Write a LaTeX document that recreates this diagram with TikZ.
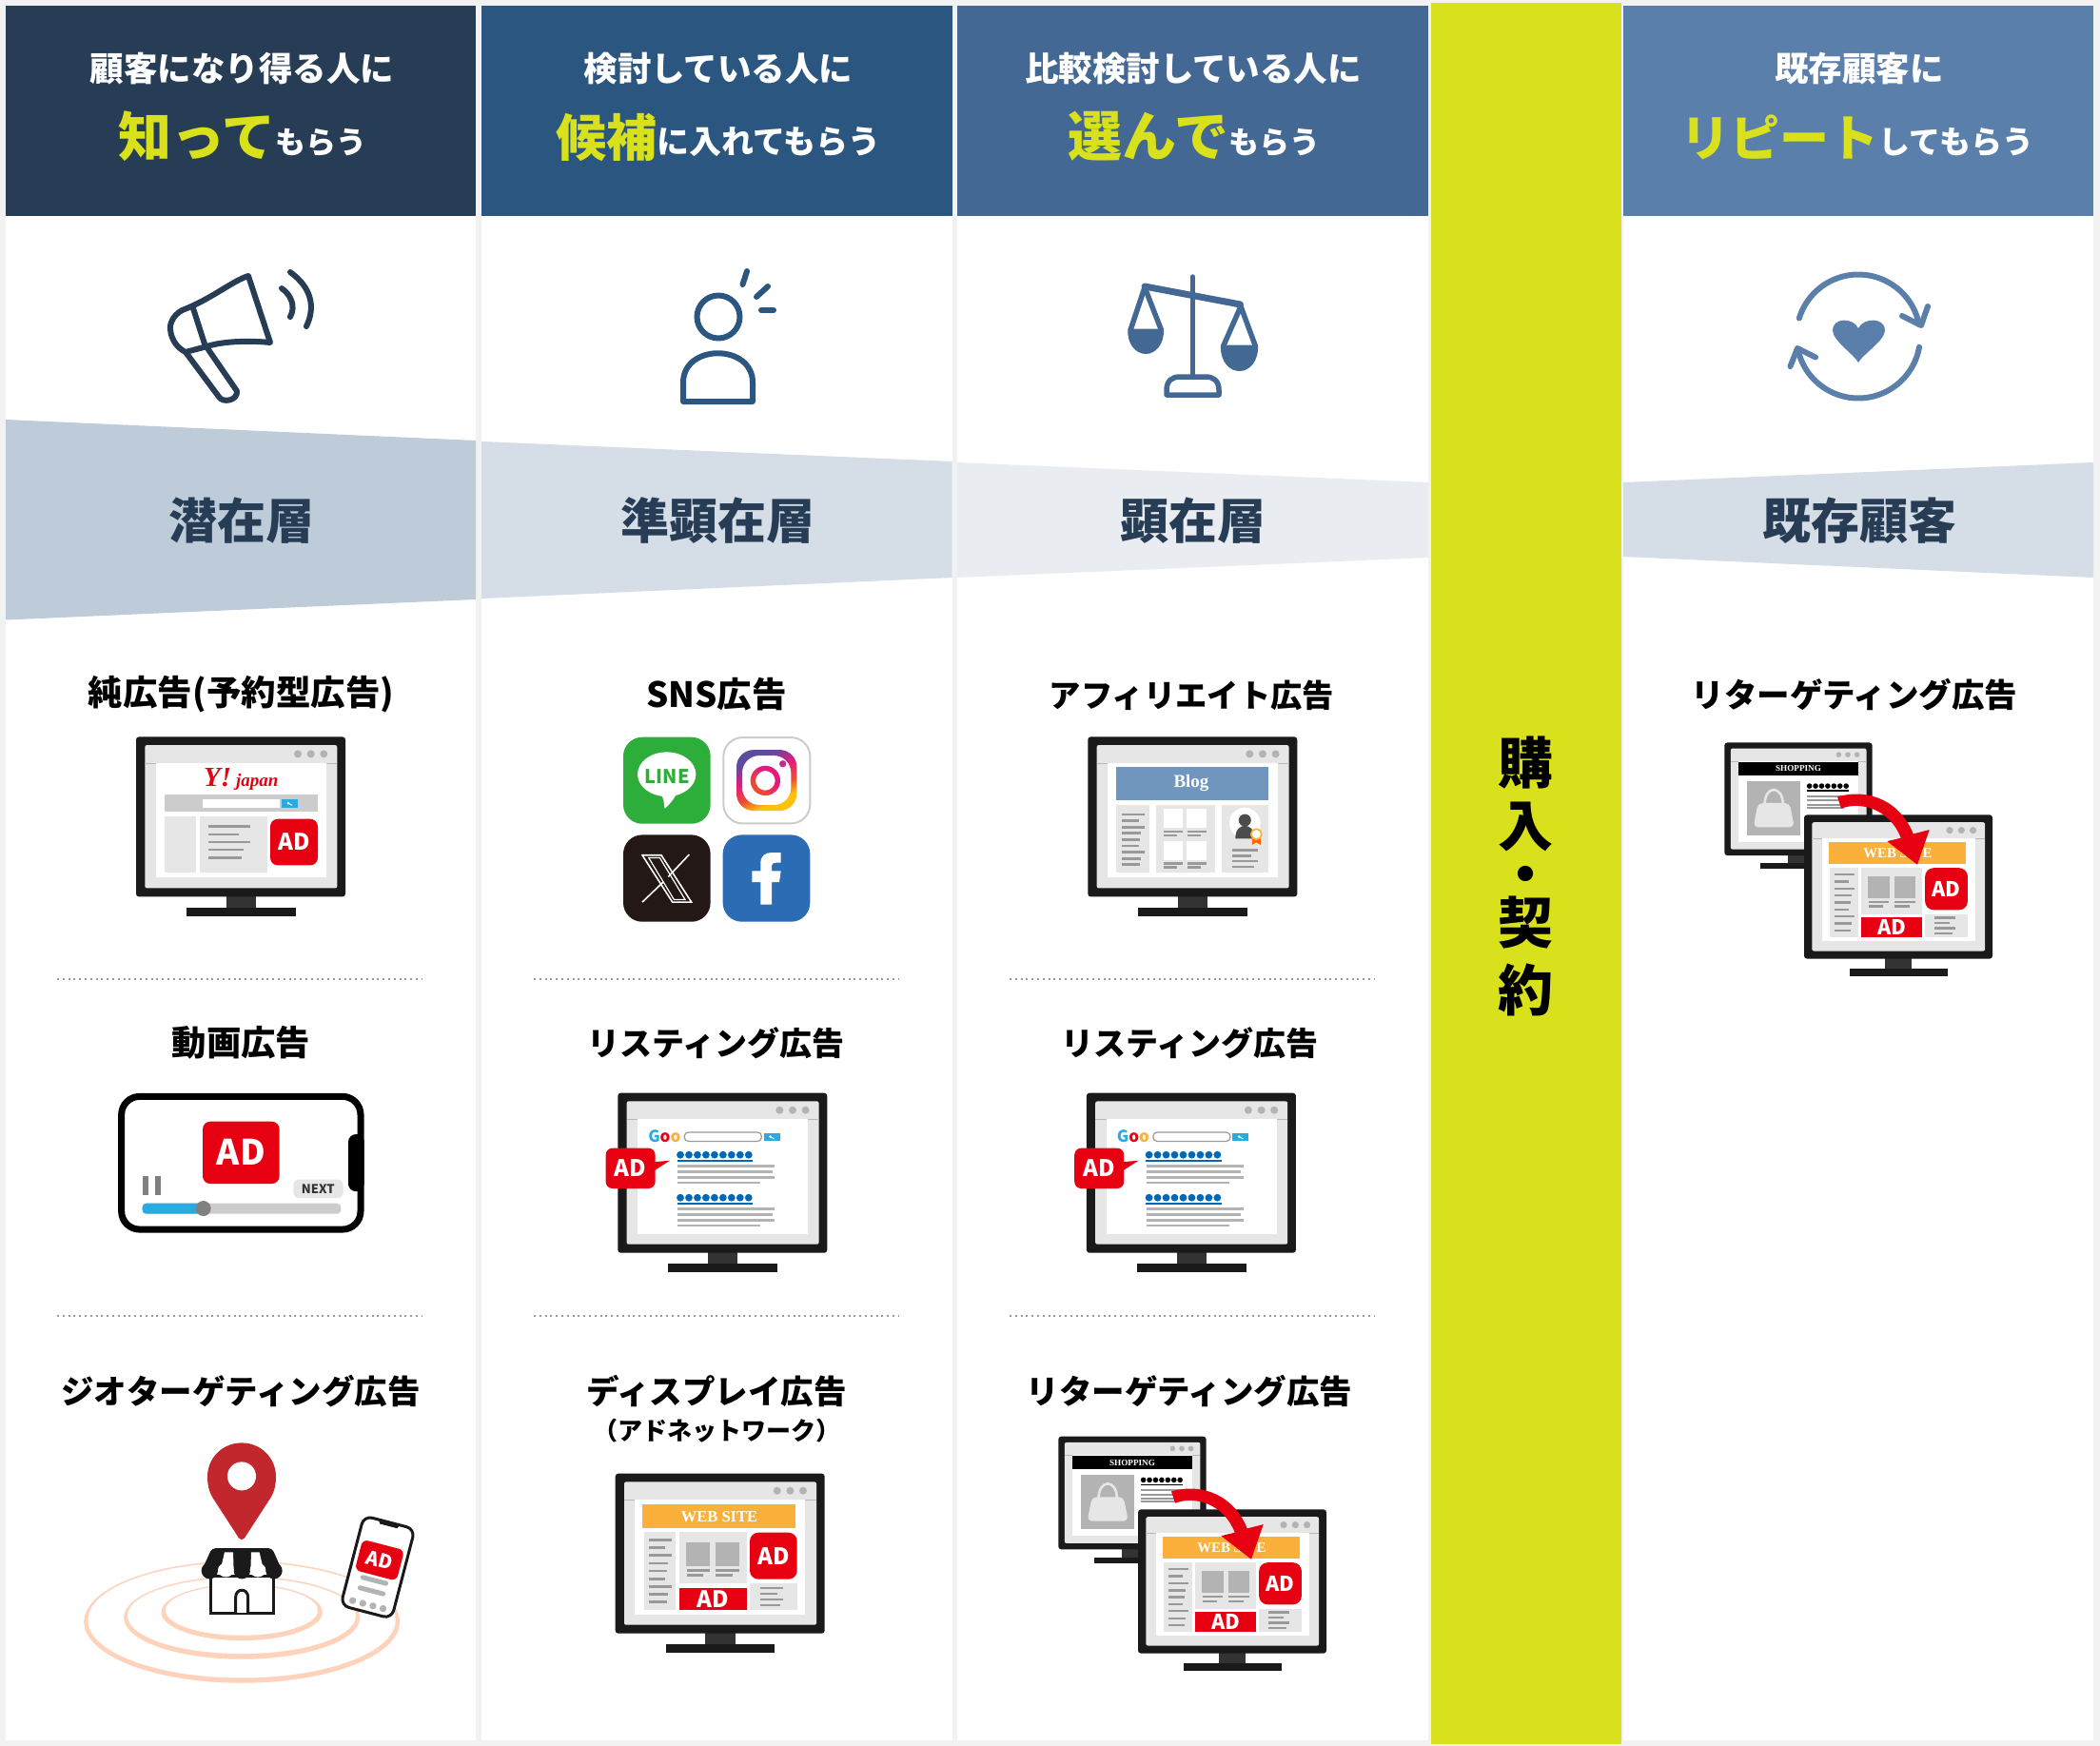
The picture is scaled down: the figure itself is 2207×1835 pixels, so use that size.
\documentclass[tikz,border=0pt]{standalone}
\usepackage{fontspec}
\newfontfamily\jpb{Noto Sans CJK JP Black}
\newfontfamily\srf{Liberation Serif}
\newcommand{\fs}[1]{\fontsize{#1}{#1}\selectfont}
\definecolor{bgc}{HTML}{F2F2F2}
\definecolor{hone}{HTML}{273D55}
\definecolor{htwo}{HTML}{2B5680}
\definecolor{hthree}{HTML}{446894}
\definecolor{hfour}{HTML}{5B7FAB}
\definecolor{hy}{HTML}{D9E01C}
\definecolor{wone}{HTML}{BECCD9}
\definecolor{wtwo}{HTML}{D5DDE6}
\definecolor{wthree}{HTML}{E9EDF1}
\definecolor{adred}{HTML}{E60012}
\definecolor{monblk}{HTML}{1A1A1A}
\definecolor{monneck}{HTML}{333333}
\definecolor{mong}{HTML}{E6E6E6}
\definecolor{lineg}{HTML}{999999}
\definecolor{boxg}{HTML}{B3B3B3}
\definecolor{dotg}{HTML}{B3B3B3}
\definecolor{skyb}{HTML}{29ABE2}
\definecolor{linkb}{HTML}{0068B7}
\definecolor{orng}{HTML}{FBB03B}
\definecolor{blogb}{HTML}{7096BD}
\definecolor{peach}{HTML}{FFD2BC}
\definecolor{pinred}{HTML}{C1272D}
\definecolor{igy}{HTML}{FCC10D}
\definecolor{igo}{HTML}{EE4C30}
\definecolor{igp}{HTML}{E6197E}
\definecolor{igv}{HTML}{5B4CA0}
\pgfdeclareverticalshading{igshade}{100bp}{color(0bp)=(igy);color(31bp)=(igy);color(42bp)=(igo);color(56bp)=(igp);color(70bp)=(igv);color(100bp)=(igv)}
\pgfdeclareverticalshading{igcirc}{100bp}{color(0bp)=(igo);color(30bp)=(igo);color(60bp)=(igp);color(100bp)=(igp)}
\usetikzlibrary{calc}
\newcommand{\up}[1]{\raisebox{2.5pt}{#1}}
\tikzset{
  txt/.style={inner sep=0pt,outer sep=0pt},
  head/.style={txt,anchor=base,white,font=\jpb\fs{35.5}},
  headb/.style={txt,anchor=base,white,font=\jpb\fs{32}},
  stage/.style={txt,anchor=base,color=hone,font=\jpb\fs{51}},
  lab/.style={txt,anchor=base,black,font=\jpb\fs{34.5}},
  sep/.style={color=lineg,line width=2pt,dash pattern=on 2pt off 3.8pt},
  icon/.style={line width=6pt,line cap=round,line join=round},
}
\newcommand{\ml}[3]{\draw[line width=\mlw pt,color=lineg] (#1,#3)--(#2,#3);}
\newcommand{\adtext}[3]{\node[txt,white,font=\jpb\fs{#3}] at (#1,#2) {AD};}
\newcommand{\searchbtn}[4]{%
  \fill[skyb] (#1,#2) rectangle (#3,#4);
  \path ({(#1+#3)/2},{(#2+#4)/2}) coordinate (sbc);
  \fill[white] ($(sbc)+(-1.5,-0.5)$) circle[radius=1.5];
  \draw[white,line width=.9pt] ($(sbc)+(-1,0)$)--($(sbc)+(2.5,1.8)$);
}
\newcommand{\monitor}[4]{%
\begin{scope}[shift={(#1,#2)},scale=#3,transform shape]
  \pgfmathsetmacro\mlw{2.7*#3}
  \fill[monneck] (94.7,167) rectangle (126,180);
  \fill[monblk] (53,179.7) rectangle (167.7,188.3);
  \fill[monblk,rounded corners=3pt] (0,0) rectangle (220,168);
  \fill[mong,rounded corners=2pt] (9.3,8.7) rectangle (211.3,159);
  \draw[line width=.6pt,color=lineg!70] (9.3,27.7)--(211.3,27.7);
  \fill[white] (20.7,27.7) rectangle (199.7,147.8);
  \foreach \dx in {170,183.7,197.3}{\fill[dotg] (\dx,18) circle[radius=4];}
  #4
\end{scope}}
\newcommand{\cyahoo}{%
  \node[txt,color=adred,font=\srf\bfseries\itshape\fs{29}] at (110.3,45) {Y!\,\fs{19}japan};
  \fill[black!20] (30.3,61) rectangle (191,78.7);
  \fill[white] (70.3,66) rectangle (151,74.3);
  \searchbtn{153}{66}{170}{74.3}
  \fill[mong] (30.3,84) rectangle (63,142.7);
  \fill[mong] (67,84) rectangle (138,142.7);
  \ml{76}{120}{94.3}\ml{76}{108}{102.7}\ml{76}{120}{110.7}\ml{76}{113.3}{118.7}\ml{76}{110.7}{127}
  \fill[adred,rounded corners=8pt] (141,86.3) rectangle (191,135);
  \adtext{166}{110.5}{24}
}
\newcommand{\clisting}{%
  \node[txt,font=\jpb\fs{17},color=skyb] at (49,45) {G\textcolor{adred}{o}\textcolor{orng}{o}};
  \draw[lineg,fill=white,line width=1.2pt,rounded corners=4pt] (70,41.3) rectangle (151,50.7);
  \searchbtn{153.3}{42}{170.3}{50.7}
  \foreach \yy in {0,45}{
    \foreach \ii in {0,...,8}{\fill[linkb] ({65.7+8.97*\ii},{65+\yy}) circle[radius=3.9];}
    \draw[linkb,line width=1.3pt] (62.4,{71.3+\yy})--(141.7,{71.3+\yy});
    \draw[line width=\mlw pt,boxg] (62.7,{77+\yy})--(164.7,{77+\yy});
    \draw[line width=\mlw pt,boxg] (62.7,{82.7+\yy})--(162.3,{82.7+\yy});
    \draw[line width=\mlw pt,boxg] (62.7,{88.7+\yy})--(164.7,{88.7+\yy});
    \draw[line width=\mlw pt,boxg] (62.7,{94.3+\yy})--(149.7,{94.3+\yy});
  }
  \fill[adred,rounded corners=7pt] (-12.7,58) rectangle (39.3,100.3);
  \fill[adred] (36,72.7)--(54.7,71)--(36,83)--cycle;
  \adtext{13.3}{79.3}{24}
}
\newcommand{\csite}{%
  \fill[orng] (28.7,32) rectangle (189.3,57.7);
  \node[txt,white,font=\srf\bfseries\fs{16.5}] at (109.3,45) {WEB SITE};
  \fill[mong] (30.3,61.7) rectangle (63.3,143.3);
  \ml{35}{59.3}{69.7}\ml{35}{52.7}{78}\ml{35}{59.3}{86}\ml{35}{55.3}{94.3}\ml{35}{54}{102.3}\ml{35}{52.7}{110.7}\ml{35}{59.3}{118.7}\ml{35}{55.3}{127}\ml{35}{54}{135}
  \fill[mong] (67,61.7) rectangle (138.3,115.7);
  \fill[boxg] (74.7,72) rectangle (99.7,97.3);
  \fill[boxg] (105.3,72) rectangle (130.3,97.3);
  \ml{75.3}{99.3}{102}\ml{105.7}{130}{102}\ml{75.3}{92.7}{107}\ml{105.7}{123.3}{107}
  \fill[adred,rounded corners=9pt] (141.3,62) rectangle (191,111);
  \adtext{166.3}{86.7}{24}
  \fill[adred] (67,120) rectangle (138.3,143.3);
  \adtext{102.7}{131.7}{24}
  \fill[mong] (141.3,115.7) rectangle (191,143.3);
  \ml{152.3}{176.7}{120.3}\ml{152.3}{170.3}{126.3}\ml{152.3}{176.7}{132.3}\ml{152.3}{173}{138.3}
}
\newcommand{\cblog}{%
  \fill[blogb] (29.7,31.3) rectangle (190,67);
  \node[txt,white,font=\srf\bfseries\fs{19}] at (108.7,48.3) {Blog};
  \fill[mong] (29.7,71.7) rectangle (64.7,142.3);
  \ml{35.3}{59.3}{81.7}\ml{35.3}{53.3}{88.3}\ml{35.3}{59.3}{95}\ml{35.3}{55.7}{101.3}\ml{35.3}{54.3}{108}\ml{35.3}{53.3}{114.7}\ml{35.3}{59.3}{121.3}\ml{35.3}{55.7}{128}\ml{35.3}{54.3}{134.3}
  \fill[mong] (71.3,71.7) rectangle (134,142.3);
  \fill[white] (79.3,75.3) rectangle (99.7,95.7);
  \fill[white] (104,75.3) rectangle (124.7,95.7);
  \fill[white] (79.3,109.3) rectangle (99.7,130);
  \fill[white] (104,109.3) rectangle (124.7,130);
  \ml{79.7}{99.7}{99.7}\ml{79.7}{94}{103.7}\ml{104.7}{124.7}{99.7}\ml{104.7}{119}{103.7}
  \ml{79.7}{99.7}{133.3}\ml{79.7}{94}{137.3}\ml{104.7}{124.7}{133.3}\ml{104.7}{119}{137.3}
  \fill[mong] (140.3,71.7) rectangle (190,142.3);
  \fill[white] (165,90.7) circle[radius=16.3];
  \fill[black!70] (165,87.7) circle[radius=6.5];
  \fill[black!70] (155,107) .. controls (155,97) and (160,93.5) .. (165,93.5) .. controls (170,93.5) and (175,97) .. (175,107) -- cycle;
  \fill[orange!80!red] (172.5,107) -- (181.5,107) -- (181.5,113.5) -- (177,111) -- (172.5,113.5) -- cycle;
  \fill[white] (177,102.3) circle[radius=5.5];
  \draw[orng,line width=1.7pt] (177,102.3) circle[radius=5.5];
  \ml{151.7}{178.7}{119.3}\ml{151.7}{171.7}{125}\ml{151.7}{178.7}{130.7}\ml{151.7}{174.7}{136.7}
}
\newcommand{\cshop}{%
  \fill[black] (20.8,28.8) rectangle (199.7,49.1);
  \node[txt,white,font=\srf\bfseries\fs{13}] at (110,38.7) {SHOPPING};
  \fill[boxg] (33,57.6) rectangle (112.8,137.9);
  \draw[mong,line width=2.6pt] (60,95) .. controls (58,62) and (89,62) .. (87,95);
  \fill[mong,rounded corners=5pt] (50,90) -- (97,90) -- (104,126) -- (43,126) -- cycle;
  \foreach \ii in {0,...,6}{\fill[black] ({126.5+9.1*\ii},64.7) circle[radius=4];}
  \draw[black,line width=1.6pt] (123,71.8)--(184.6,71.8);
  \ml{123}{184}{79.8}\ml{123}{184}{86.4}\ml{123}{178}{92.5}\ml{123}{178}{97.3}
}
\newcommand{\retarget}[4]{%
  \monitor{#1}{#2}{.706}{\cshop}
  \monitor{#3}{#4}{.9}{\csite}
  \begin{scope}[shift={(#3,#4)}]
    \fill[adred] (35,-19) .. controls (67.3,-28.3) and (100.7,-15) .. (114.7,20) -- (131.7,15.7) -- (119,52.3) -- (87.3,27.7) -- (101.7,24.3) .. controls (90.7,-5) and (60.7,-15) .. (39,-6.7) -- cycle;
  \end{scope}
}
\begin{document}
\begin{tikzpicture}[x=1pt,y=-1pt]
\useasboundingbox (0,0) rectangle (2207,1835);
\fill[bgc] (0,0) rectangle (2207,1835);
% columns
\fill[white] (6,227) rectangle (500,1829);
\fill[white] (506,227) rectangle (1000.5,1829);
\fill[white] (1006,227) rectangle (1501,1829);
\fill[white] (1706,227) rectangle (2200,1829);
\fill[hone] (6,6.3) rectangle (500,227.5);
\fill[htwo] (506,6.3) rectangle (1000.5,227.5);
\fill[hthree] (1006,6.3) rectangle (1501,227.5);
\fill[hfour] (1706,6.3) rectangle (2200,227.5);
\fill[hy] (1503.5,3) rectangle (1704,1833);
% wedges
\fill[wone] (6,441)--(500,463)--(500,630)--(6,651.5)--cycle;
\fill[wtwo] (506,464)--(1000.5,485)--(1000.5,607)--(506,629)--cycle;
\fill[wthree] (1006,486)--(1501,507)--(1501,586)--(1006,607)--cycle;
\fill[wtwo] (1706,507)--(2200,486)--(2200,607)--(1706,585)--cycle;
% icons
\begin{scope}[hone]
\draw[icon,fill=white] (196.5,324) .. controls (225,312) and (245,295) .. (261,290) -- (284,360) .. controls (265,358) and (235,358) .. (216,364.5) -- (195,370) .. controls (187,366) and (180,358) .. (179,346) .. controls (178,340) and (183,328) .. (196.5,324) -- cycle;
\draw[icon] (203,324) -- (216,364.5);
\draw[icon] (195,370) -- (230,417) .. controls (234,424) and (250,421) .. (249,411) -- (218,366);
\draw[icon] (296,303) .. controls (306,310) and (311,322) .. (305,333);
\draw[icon] (305,286) .. controls (327,302) and (332,322) .. (322,343);
\end{scope}
\begin{scope}[htwo]
\draw[icon] (755,333) circle[radius=22.5];
\draw[icon] (718,422) -- (718,402) .. controls (718,361) and (791,361) .. (791,402) -- (791,422) -- cycle;
\draw[icon] (785,285) -- (780.5,299);
\draw[icon] (807,301) -- (795,312);
\draw[icon] (800,326) -- (813,326);
\end{scope}
\begin{scope}[hthree]
\draw[line width=5.5pt,line cap=round] (1253.3,291)--(1253.3,395);
\draw[line width=7pt,line cap=round] (1203,301)--(1303.5,320);
\draw[line width=5.5pt,line join=round,fill=white] (1226,415)--(1226,410) .. controls (1226,400) and (1232,396) .. (1240,396) -- (1267,396) .. controls (1275,396) and (1281,400) .. (1281,410) -- (1281,415) -- cycle;
\draw[line width=5.5pt,line join=round] (1203,302)--(1188,347);
\draw[line width=5.5pt,line join=round] (1203,302)--(1220.5,347);
\fill (1185.5,345.5) -- (1223,345.5) .. controls (1224,362) and (1214,372) .. (1204.3,372) .. controls (1194,372) and (1184,362) .. (1185.5,345.5) -- cycle;
\draw[line width=5.5pt,line join=round] (1304,322)--(1285.5,364);
\draw[line width=5.5pt,line join=round] (1304,322)--(1319.5,364);
\fill (1283,362.5) -- (1322,362.5) .. controls (1323,380) and (1313,390) .. (1302.5,390) .. controls (1292,390) and (1282,380) .. (1283,362.5) -- cycle;
\end{scope}
\begin{scope}[hfour]
\draw[line width=6pt,line cap=round] plot[domain=197:349,samples=50,smooth] ({1953+65*cos(\x)},{353.5+65*sin(\x)});
\draw[line width=6pt,line cap=round,line join=round] (1999,332) -- (2019,342) -- (2026,322);
\draw[line width=6pt,line cap=round] plot[domain=10:166,samples=50,smooth] ({1953+65*cos(\x)},{353.5+65*sin(\x)});
\draw[line width=6pt,line cap=round,line join=round] (1908,375.5) -- (1889,366) -- (1881.5,385);
\fill (1953,381) .. controls (1948,372) and (1926,358) .. (1926,347) .. controls (1926,334) and (1947,333) .. (1953,345) .. controls (1959,333) and (1981,334) .. (1981,347) .. controls (1981,358) and (1958,372) .. (1953,381) -- cycle;
\end{scope}
\begin{scope}[yshift=-1.4pt]
% header text
\node[head] (h1) at (254.5,84.6) {顧客になり得る人に};
\node[head] (h2) at (755,84.6) {検討している人に};
\node[head] (h3) at (1254,84.6) {比較検討している人に};
\node[head] (h4) at (1954,84.6) {既存顧客に};
\node[headb] (s1) at (255,163) {\textcolor{hy}{\fs{56}知って}\up{もらう}};
\node[headb] (s2) at (755,163) {\textcolor{hy}{\fs{53}候補}\up{\fs{34}に入れてもらう}};
\node[headb] (s3) at (1255,163) {\textcolor{hy}{\fs{57}選んで}\up{もらう}};
\node[headb] (s4) at (1952,163) {\textcolor{hy}{\fs{52}リピート}\up{\fs{33}してもらう}};
% stage text
\node[stage] (t1) at (254,565) {潜在層};
\node[stage] (t2) at (754,565) {準顕在層};
\node[stage] (t3) at (1254,565) {顕在層};
\node[stage] (t4) at (1954,565) {既存顧客};
% vertical band text
\node[txt,align=center,black,font=\jpb\fs{58}] (buy) at (1603,919.5) {購\\[8pt]入\\[-7pt]・\\[-7pt]契\\[13pt]約};
% row labels
\node[lab,font=\jpb\fs{36.5}] (a1) at (253.5,740) {純広告(予約型広告)};
\node[lab,font=\jpb\fs{36.5}] (b1) at (753,742) {SNS広告};
\node[lab,font=\jpb\fs{33.3}] (c1) at (1252.5,742) {アフィリエイト広告};
\node[lab] (d1) at (1949,742) {リターゲティング広告};
\node[lab,font=\jpb\fs{36.4}] (a2) at (253.5,1108) {動画広告};
\node[lab,font=\jpb\fs{34}] (b2) at (752,1108) {リスティング広告};
\node[lab,font=\jpb\fs{34}] (c2) at (1250,1108) {リスティング広告};
\node[lab] (a3) at (253,1474) {ジオターゲティング広告};
\node[lab] (b3) at (753,1474) {ディスプレイ広告};
\node[txt,anchor=base,black,font=\jpb\fs{26}] (b4) at (753,1512) {（アドネットワーク）};
\node[lab] (c3) at (1250,1474) {リターゲティング広告};
% separators
\foreach \xa/\xb in {60/444,561/944,1061/1445}{
  \draw[sep] (\xa,1028)--(\xb,1028);
  \draw[sep] (\xa,1382)--(\xb,1382);
}
% monitors
\monitor{143}{773}{1}{\cyahoo}
\monitor{1143.3}{773}{1}{\cblog}
\monitor{649.3}{1147.3}{1}{\clisting}
\monitor{1141.9}{1147.3}{1}{\clisting}
\monitor{646.7}{1547.3}{1}{\csite}
\retarget{1112.3}{1508.3}{1196}{1585}
\retarget{1812.3}{779}{1896}{855}
% video phone
\begin{scope}[shift={(100,1130)},scale=1/3,transform shape]
\draw[black,fill=white,line width=7pt,rounded corners=19pt] (83,63) rectangle (837,482);
\fill[black,rounded corners=8pt] (848,182) -- (798,182) -- (798,362) -- (848,362) -- cycle;
\fill[adred,rounded corners=8pt] (339,142) rectangle (581,338);
\node[txt,white,font=\jpb\fs{110}] at (460,238) {AD};
\fill[black!50] (149,315) rectangle (167,374);
\fill[black!50] (188,315) rectangle (206,374);
\fill[mong,rounded corners=6pt] (625,325) rectangle (782,383);
\node[txt,color=monneck,font=\jpb\fs{39}] at (703,354) {NEXT};
\fill[black!20,rounded corners=4pt] (149,400) rectangle (775,433);
\fill[skyb,rounded corners=4pt] (149,400) rectangle (345,433);
\fill[black!50] (341,416) circle[radius=24];
\end{scope}
% SNS icons
\begin{scope}[shift={(640,760)},scale=1/3,transform shape]
\fill[color={rgb,255:red,45;green,174;blue,58},rounded corners=20pt] (45,40) rectangle (320,313);
\fill[white] (182,157) ellipse[x radius=92,y radius=70];
\fill[white] (160,215) -- (215,215) .. controls (200,245) and (180,262) .. (176,265) .. controls (172,262) and (178,235) .. (160,215) -- cycle;
\node[txt,font=\jpb\fs{60},color={rgb,255:red,45;green,174;blue,58}] at (184,165) {LINE};
\draw[black!20,fill=white,line width=2pt,rounded corners=20pt] (361,41) rectangle (634,312);
\shade[shading=igshade,shading angle=25,even odd rule,rounded corners=18pt] (402,80) rectangle (592,272) (420,98) rectangle (574,254);
\shade[shading=igcirc,shading angle=-45,even odd rule] (493,177) circle[radius=47] (493,177) circle[radius=31];
\fill[color={rgb,255:red,198;green,43;blue,142}] (548,124) circle[radius=11];
\fill[color={rgb,255:red,35;green,24;blue,21},rounded corners=20pt] (45,348) rectangle (320,622);
\draw[white,line width=1.6pt,line join=miter] (105,412)--(165,412)--(260,560)--(200,560)--cycle;
\draw[white,line width=1.6pt] (253,410)--(187,480);
\draw[white,line width=1.6pt] (172,496)--(105,560);
\draw[white,line width=1.2pt] (125,420)--(160,420)--(240,552)--(205,552)--cycle;
\fill[color={rgb,255:red,43;green,108;blue,181},rounded corners=20pt] (359,348) rectangle (634,622);
\fill[white] (478,462)--(478,437) .. controls (478,415) and (492,404) .. (512,404) -- (542,404) -- (542,436) -- (527,436) .. controls (517,436) and (513,440) .. (513,450) -- (513,462) -- (542,462) -- (537,497) -- (513,497) -- (513,568) -- (478,568) -- (478,497) -- (451,497) -- (451,462) -- cycle;
\end{scope}
% geo targeting
\begin{scope}[shift={(70,1490)},scale=1/3,transform shape]
\fill[peach] (552.5,639.5) ellipse[x radius=497.5,y radius=192.5];
\fill[white] (552,634) ellipse[x radius=485,y radius=182];
\fill[peach] (552.5,626) ellipse[x radius=372,y radius=131];
\fill[white] (552,620) ellipse[x radius=360,y radius=120];
\fill[peach] (552.5,609) ellipse[x radius=254,y radius=89];
\fill[white] (552,603) ellipse[x radius=240,y radius=79];
\fill[pinred] (543,375) -- (462,250) .. controls (448,228) and (444,205) .. (444,182) .. controls (444,122) and (492,75) .. (552,75) .. controls (612,75) and (660,122) .. (660,182) .. controls (660,205) and (656,228) .. (642,250) -- (561,375) .. controls (556,382) and (548,382) .. (543,375) -- cycle;
\fill[white] (552,180) circle[radius=45];
\draw[monblk,fill=white,line width=3pt] (454,495) rectangle (652,612);
\draw[monblk,line width=3pt,fill=white] (533,610) -- (533,562) .. controls (533,532) and (572,532) .. (572,562) -- (572,610);
\fill[monblk,rounded corners=4pt] (458,407)--(648,407)--(680,480)--(425,480)--cycle;
\foreach \cx in {451,553,654}{\fill[monblk] (\cx,478) ellipse[x radius=26,y radius=26];}
\foreach \cx in {502,603}{\fill[white] (\cx,476) ellipse[x radius=25,y radius=22];}
\fill[white] (498,420)--(525,420)--(527,480)--(484,480)--cycle;
\fill[white] (582,420)--(608,420)--(622,480)--(580,480)--cycle;
\begin{scope}[shift={(981,467)},rotate=-14.6,transform shape]
\draw[monblk,fill=white,line width=3pt,rounded corners=9pt] (-83,-146) rectangle (83,146);
\fill[monblk] (-35,-146) -- (35,-146) -- (28,-134) -- (-28,-134) -- cycle;
\fill[adred,rounded corners=6pt] (-68,-73) rectangle (68,27);
\node[txt,white,font=\jpb\fs{60}] at (0,-23) {AD};
\draw[boxg,line width=5pt,line cap=round] (-38,43)--(38,43);
\draw[boxg,line width=5pt,line cap=round] (-38,77)--(38,77);
\foreach \cx in {-50,-17,16,49}{\fill[boxg] (\cx,122) circle[radius=11];}
\end{scope}
\end{scope}
\end{scope}
\end{tikzpicture}
\end{document}
